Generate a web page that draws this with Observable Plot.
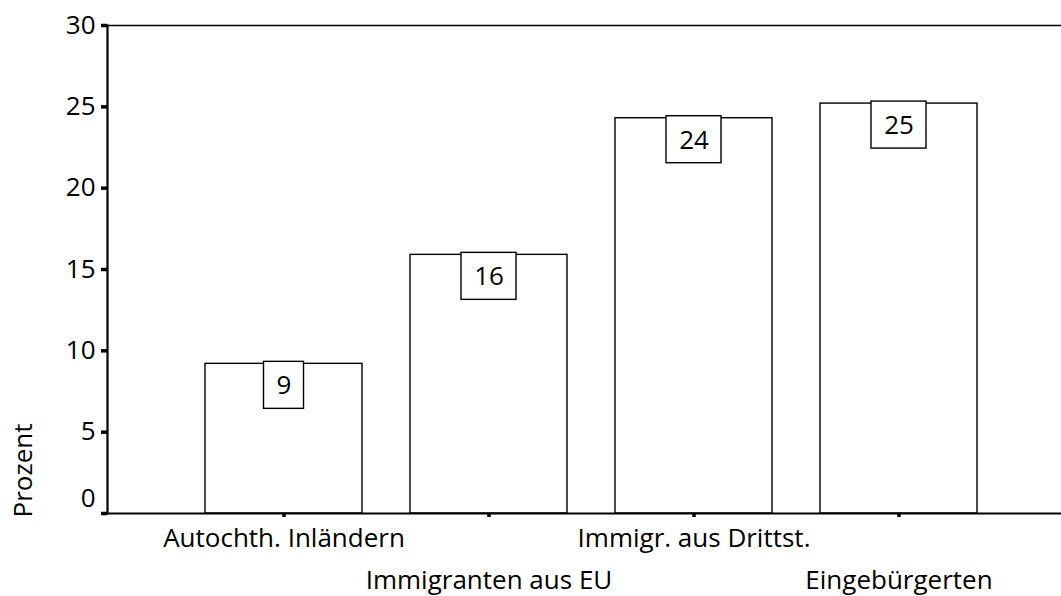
<!DOCTYPE html>
<html>
<head>
<meta charset="utf-8">
<script src="https://cdn.jsdelivr.net/npm/d3@7"></script>
<script src="https://cdn.jsdelivr.net/npm/@observablehq/plot@0.6"></script>
<style>
  html, body { margin: 0; padding: 0; background: #fff; }
</style>
</head>
<body>
<div id="chart"></div>
<script>
const categories = ["Autochth. Inländern", "Immigranten aus EU", "Immigr. aus Drittst.", "Eingebürgerten"];
const values = [9.2, 15.9, 24.3, 25.2];
const valueLabels = ["9", "16", "24", "25"];
const yTicks = [0, 5, 10, 15, 20, 25, 30];
const yLabel = "Prozent";

const data = categories.map((c, i) => ({cat: c, value: values[i], label: valueLabels[i]}));
const font = "'Open Sans', Lato, sans-serif";
const fs = 26;

const chart = Plot.plot({
  width: 1061,
  height: 596,
  marginLeft: 107,
  marginRight: 0,
  marginTop: 25,
  marginBottom: 83,
  style: {fontFamily: font, fontSize: fs + "px", background: "#fff", color: "#000"},
  x: {domain: categories, range: [180.3, 1001.9], paddingInner: 0.232, paddingOuter: 0.116, axis: null},
  y: {domain: [0, 30], axis: null},
  marks: [
    Plot.barY(data, {x: "cat", y: "value", fill: "white", stroke: "black", strokeWidth: 1.4}),
    Plot.barY(data, {filter: d => d.label.length === 1, x: "cat", y1: "value", y2: "value",
      insetTop: -2, insetBottom: -45, insetLeft: 58.5, insetRight: 58.5, fill: "white", stroke: "black", strokeWidth: 1.4}),
    Plot.barY(data, {filter: d => d.label.length > 1, x: "cat", y1: "value", y2: "value",
      insetTop: -2, insetBottom: -45, insetLeft: 51, insetRight: 51, fill: "white", stroke: "black", strokeWidth: 1.4}),
    Plot.text(data, {x: "cat", y: "value", text: "label", dy: 22, fontSize: fs, fill: "black"}),
    Plot.ruleY([30], {stroke: "black", strokeWidth: 1.5}),
    Plot.frame({anchor: "left", stroke: "black", strokeWidth: 2.2}),
    Plot.ruleY([0], {stroke: "black", strokeWidth: 2.2}),
    Plot.axisY(yTicks, {label: null, tickSize: 6, tickPadding: 6, strokeWidth: 3.5, fontSize: fs, fill: "black", stroke: "black",
      tickFormat: d => d === 0 ? "" : String(d)}),
    Plot.text([0], {y: d => d, text: d => String(d), frameAnchor: "left", textAnchor: "end", dx: -12, dy: -15, fontSize: fs, fill: "black"}),
    Plot.axisX(categories.filter((d, i) => i % 2 === 0), {label: null, tickSize: 4, tickPadding: 11.5, strokeWidth: 3.5, fontSize: fs, fill: "black", stroke: "black"}),
    Plot.axisX(categories.filter((d, i) => i % 2 === 1), {label: null, tickSize: 4, tickPadding: 53, strokeWidth: 3.5, fontSize: fs, fill: "black", stroke: "black"}),
    Plot.text([yLabel], {frameAnchor: "bottom-left", dx: -84, dy: -43, rotate: -90, textAnchor: "middle", lineAnchor: "middle", fontSize: fs, fill: "black"})
  ]
});
document.getElementById("chart").appendChild(chart);
</script>
</body>
</html>
